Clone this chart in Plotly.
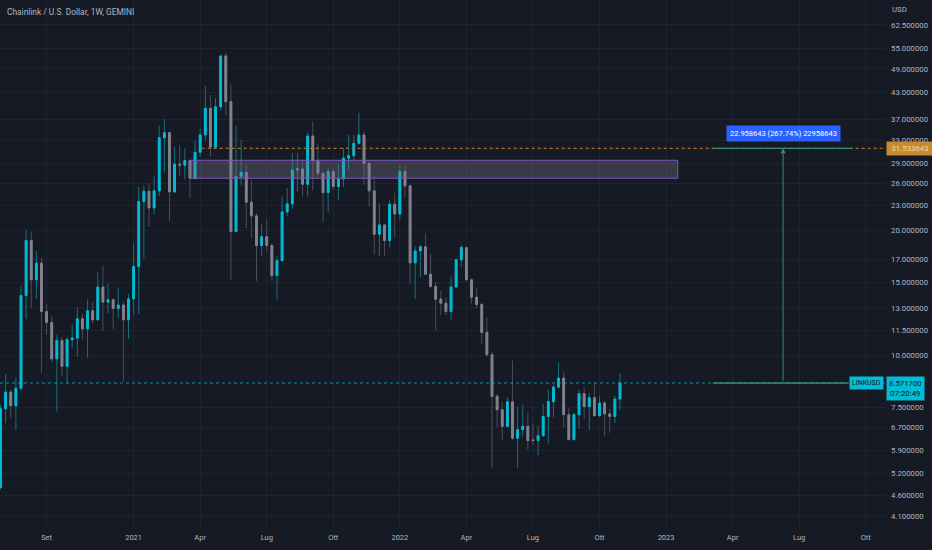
"""
LINKUSD weekly (Gemini) — TradingView-style dark candlestick chart
with resistance box, horizontal target line and a price-range measure.
"""

import math
import pandas as pd
import plotly.graph_objects as go

# ── Data (weekly candles, first bar = week of 2020-07-06) ────────────────────
weeks = pd.date_range("2020-07-06", periods=122, freq="W-MON")

opens = [4.80, 7.43, 8.15, 7.56, 8.32, 13.93, 18.90, 15.20, 16.67, 12.75,
         12.00, 9.80, 10.85, 9.40, 10.90, 11.00, 12.24, 11.58, 12.80, 12.17,
         14.60, 13.43, 13.60, 12.96, 13.21, 12.17, 13.67, 16.36, 23.45, 24.85,
         22.65, 24.90, 33.44, 34.38, 24.76, 28.86, 28.70, 29.44, 26.70, 30.85,
         33.95, 39.36, 31.72, 39.70, 52.63, 40.84, 19.86, 26.94, 27.60, 23.38,
         21.67, 18.38, 19.30, 18.38, 15.56, 16.90, 22.15, 23.16, 27.96, 28.10,
         25.83, 33.76, 29.44, 27.46, 24.65, 27.70, 25.50, 26.60, 29.85, 30.25,
         32.42, 33.95, 29.02, 24.90, 19.58, 20.61, 18.90, 23.12, 21.90, 27.70,
         25.60, 16.70, 17.84, 18.25, 15.68, 14.65, 13.65, 13.35, 12.75, 14.60,
         16.98, 18.17, 15.20, 13.80, 13.26, 11.35, 10.03, 7.96, 7.39, 6.74,
         7.72, 6.31, 6.62, 6.74, 6.25, 6.23, 6.40, 7.12, 7.73, 8.38,
         8.81, 7.19, 6.26, 7.19, 8.08, 7.52, 7.90, 7.15, 7.67, 7.22,
         7.12, 7.84]
highs = [7.60, 9.00, 8.26, 8.83, 14.70, 20.05, 19.87, 17.83, 17.12, 13.30,
         12.45, 11.22, 11.07, 11.05, 11.84, 13.03, 12.57, 13.63, 13.46, 15.82,
         16.45, 14.92, 13.70, 14.55, 13.45, 14.03, 18.62, 25.50, 25.63, 25.97,
         27.10, 35.70, 37.04, 34.50, 31.77, 32.12, 31.54, 29.50, 32.90, 35.10,
         44.55, 42.39, 41.70, 52.80, 53.50, 44.98, 35.70, 33.00, 28.75, 26.45,
         22.00, 20.70, 21.25, 18.62, 17.30, 24.10, 25.27, 30.67, 30.67, 29.30,
         34.35, 36.55, 32.25, 27.50, 28.26, 28.26, 28.85, 31.64, 33.95, 33.95,
         38.40, 34.60, 29.10, 27.10, 23.25, 20.66, 23.68, 24.60, 28.75, 28.75,
         25.75, 18.30, 18.45, 19.70, 17.55, 15.00, 14.30, 13.75, 15.45, 17.00,
         18.45, 18.20, 15.30, 14.50, 13.35, 12.35, 10.20, 8.06, 7.70, 7.93,
         9.70, 7.53, 7.60, 7.26, 6.86, 6.76, 7.64, 8.26, 8.49, 9.60,
         9.15, 7.46, 7.26, 8.26, 8.36, 8.10, 8.60, 7.98, 7.75, 7.42,
         7.98, 9.05]
lows = [4.74, 6.86, 7.07, 6.62, 8.20, 12.23, 12.98, 13.65, 9.06, 11.20,
        9.61, 7.32, 8.90, 8.49, 10.41, 9.90, 10.90, 9.85, 11.95, 12.12,
        11.46, 12.64, 11.57, 12.29, 8.65, 10.95, 12.52, 12.56, 17.12, 20.42,
        21.90, 24.20, 27.55, 21.07, 24.60, 27.05, 26.55, 23.90, 26.45, 30.10,
        33.00, 30.10, 31.50, 38.90, 37.94, 15.20, 19.80, 25.73, 20.24, 19.14,
        15.10, 17.35, 17.80, 15.12, 13.60, 16.82, 21.60, 22.55, 24.80, 24.12,
        24.12, 24.92, 26.94, 20.88, 22.10, 25.03, 23.68, 25.40, 28.00, 29.40,
        32.12, 25.73, 22.80, 17.45, 17.35, 17.38, 18.20, 19.20, 21.20, 24.00,
        14.84, 13.65, 15.40, 15.62, 14.50, 11.48, 12.50, 12.50, 12.17, 14.50,
        16.30, 15.10, 13.30, 12.96, 10.67, 9.90, 5.35, 6.70, 6.23, 6.70,
        6.26, 5.35, 6.36, 5.92, 6.07, 5.74, 6.36, 6.12, 7.08, 8.33,
        6.70, 6.24, 6.24, 6.64, 7.03, 6.60, 7.12, 7.10, 6.38, 6.50,
        6.86, 7.39]
closes = [7.43, 8.15, 7.56, 8.32, 13.93, 18.90, 15.20, 16.67, 12.75, 12.00,
          9.80, 10.85, 9.40, 10.90, 11.00, 12.24, 11.58, 12.80, 12.17, 14.60,
          13.43, 13.60, 12.96, 13.21, 12.17, 13.67, 16.36, 23.45, 24.85, 22.65,
          24.90, 33.44, 34.38, 24.76, 28.86, 28.70, 29.44, 26.70, 30.85, 33.95,
          39.36, 31.72, 39.70, 52.63, 40.84, 19.86, 26.94, 27.60, 23.38, 21.67,
          18.38, 19.30, 18.38, 15.56, 16.90, 22.15, 23.16, 27.96, 28.10, 25.83,
          33.76, 29.44, 27.46, 24.65, 27.70, 25.50, 26.60, 29.85, 30.25, 32.42,
          33.95, 29.02, 24.90, 19.58, 20.61, 18.90, 23.12, 21.90, 27.70, 25.60,
          16.70, 17.84, 18.25, 15.68, 14.65, 13.65, 13.35, 12.75, 14.60, 16.98,
          18.17, 15.20, 13.80, 13.26, 11.35, 10.03, 7.96, 7.39, 6.74, 7.72,
          6.31, 6.62, 6.74, 6.23, 6.23, 6.40, 7.12, 7.73, 8.38, 8.81,
          7.19, 6.26, 7.19, 8.08, 7.52, 7.90, 7.15, 7.67, 7.22, 7.12,
          7.84, 8.5717]

last_price = 8.5717
target_price = 31.53
box_low, box_high = 26.7, 29.5

# 8.5 sits under the last-price label, so it is left out
price_ticks = [62.5, 55, 49, 43, 37, 33, 29, 26, 23, 20, 17, 15, 13, 11.5,
               10, 7.5, 6.7, 5.9, 5.2, 4.6, 4.1]
time_ticks = ["2020-09-07", "2021-01-04", "2021-04-05", "2021-07-05",
              "2021-10-04", "2022-01-03", "2022-04-04", "2022-07-04",
              "2022-10-03", "2023-01-02", "2023-04-03", "2023-07-03",
              "2023-10-02"]
time_labels = ["Set", "2021", "Apr", "Lug", "Ott", "2022", "Apr", "Lug",
               "Ott", "2023", "Apr", "Lug", "Ott"]

# ── Style ────────────────────────────────────────────────────────────────────
BG = "#161a25"
GRID = "#1f2330"
TXT = "#b2b5be"
UP_BODY, UP_WICK = "#00bcd4", "#16707d"
DN_BODY, DN_WICK = "#80838d", "#4b4e58"
MEASURE = "#3e8a6e"
FONT = "Roboto"

X_RANGE = ["2020-07-05 07:00", "2023-10-29 17:00"]

fig = go.Figure()

# wicks (full OHLC, dim colours)
fig.add_trace(go.Candlestick(
    x=weeks, open=opens, high=highs, low=lows, close=closes,
    increasing=dict(line=dict(color=UP_WICK, width=1), fillcolor=UP_WICK),
    decreasing=dict(line=dict(color=DN_WICK, width=1), fillcolor=DN_WICK),
    whiskerwidth=0, hoverinfo="skip", showlegend=False))

# bodies on top (bright colours)
body_hi = [max(o, c) for o, c in zip(opens, closes)]
body_lo = [min(o, c) for o, c in zip(opens, closes)]
fig.add_trace(go.Candlestick(
    x=weeks, open=opens, high=body_hi, low=body_lo, close=closes,
    increasing=dict(line=dict(color=UP_BODY, width=1), fillcolor=UP_BODY),
    decreasing=dict(line=dict(color=DN_BODY, width=1), fillcolor=DN_BODY),
    whiskerwidth=0, showlegend=False))

# ── Drawings ─────────────────────────────────────────────────────────────────
shapes = [
    # last price dotted line
    dict(type="line", xref="x", yref="y", x0=X_RANGE[0], x1=X_RANGE[1],
         y0=last_price, y1=last_price, layer="above",
         line=dict(color="rgba(0,188,212,0.75)", width=1, dash="dot")),
    # resistance box
    dict(type="rect", xref="x", yref="y", x0="2021-03-21", x1="2023-01-18",
         y0=box_low, y1=box_high, layer="above",
         fillcolor="rgba(120,123,134,0.35)",
         line=dict(color="#7e57c2", width=1)),
    # target dashed line
    dict(type="line", xref="x", yref="y", x0="2021-04-07", x1=X_RANGE[1],
         y0=target_price, y1=target_price, layer="above",
         line=dict(color="#a8702c", width=1.3, dash="3px,3px")),
    # measure tool top / bottom
    dict(type="line", xref="x", yref="y", x0="2023-03-07", x1="2023-09-14",
         y0=target_price, y1=target_price, layer="above",
         line=dict(color=MEASURE, width=1.3)),
    dict(type="line", xref="x", yref="y", x0="2023-03-07", x1="2023-09-07",
         y0=last_price, y1=last_price, layer="above",
         line=dict(color=MEASURE, width=1.3)),
]

annotations = [
    dict(xref="paper", yref="paper", x=0.006, y=1, xanchor="left",
         yanchor="top", yshift=-5, showarrow=False,
         text="Chainlink / U.S. Dollar, 1W, GEMINI",
         font=dict(family=FONT, size=8.4, color=TXT)),
    dict(xref="paper", yref="paper", x=1, y=1, xanchor="left",
         yanchor="top", xshift=4, yshift=-3, showarrow=False, text="USD",
         font=dict(family=FONT, size=7.8, color=TXT)),
    # measure arrow
    dict(xref="x", yref="y", x="2023-06-11", y=math.log10(target_price),
         ax=0, ay=234, text="", showarrow=True, arrowhead=2, arrowsize=1,
         arrowwidth=1, arrowcolor=MEASURE, standoff=0),
    dict(xref="x", yref="y", x="2023-06-11", y=math.log10(34.3),
         showarrow=False, text="22.958643 (267.74%) 22958643",
         bgcolor="#2962ff", borderpad=3,
         font=dict(family=FONT, size=7.5, color="#ffffff")),
    # right-hand price labels
    dict(xref="paper", yref="y", x=1, y=math.log10(target_price),
         xanchor="left", showarrow=False, text="31.533643", width=44,
         height=11, bgcolor="#c8892f", borderpad=1,
         font=dict(family=FONT, size=7.8, color="#f3dcb4")),
    dict(xref="paper", yref="y", x=1, y=math.log10(last_price),
         xanchor="left", yanchor="top", yshift=7, showarrow=False,
         text="8.571700<br>07:20:49", bgcolor="#00bcd4", borderpad=2,
         font=dict(family=FONT, size=7.8, color="#131722")),
    dict(xref="paper", yref="y", x=1, y=math.log10(last_price),
         xanchor="right", xshift=-2, showarrow=False, text="LINKUSD",
         bgcolor="#00bcd4", borderpad=2,
         font=dict(family=FONT, size=7, color="#131722")),
]

fig.update_layout(
    width=932, height=550,
    margin=dict(l=0, r=46, t=0, b=22),
    paper_bgcolor=BG, plot_bgcolor=BG,
    boxgap=0.5,
    shapes=shapes, annotations=annotations,
    font=dict(family=FONT, size=7.5, color=TXT),
    xaxis=dict(type="date", range=X_RANGE, rangeslider=dict(visible=False),
               tickvals=time_ticks, ticktext=time_labels,
               showgrid=True, gridcolor=GRID, gridwidth=1,
               zeroline=False, showline=False, ticks="",
               ticklabelstandoff=3,
               tickfont=dict(family=FONT, size=7.5, color=TXT)),
    yaxis=dict(type="log", side="right", range=[0.5836, 1.8561],
               tickvals=price_ticks,
               ticktext=[f"{v:.6f}" for v in price_ticks],
               showgrid=True, gridcolor=GRID, gridwidth=1,
               zeroline=False, showline=False, ticks="",
               ticklabelstandoff=4,
               tickfont=dict(family=FONT, size=7.8, color=TXT)),
)

# page body has a default margin; drop it so the figure fills the window
fig.write_html("out.html", config={"displayModeBar": False},
               post_script="document.body.style.margin='0';"
                           "document.body.style.background='" + BG + "';")
